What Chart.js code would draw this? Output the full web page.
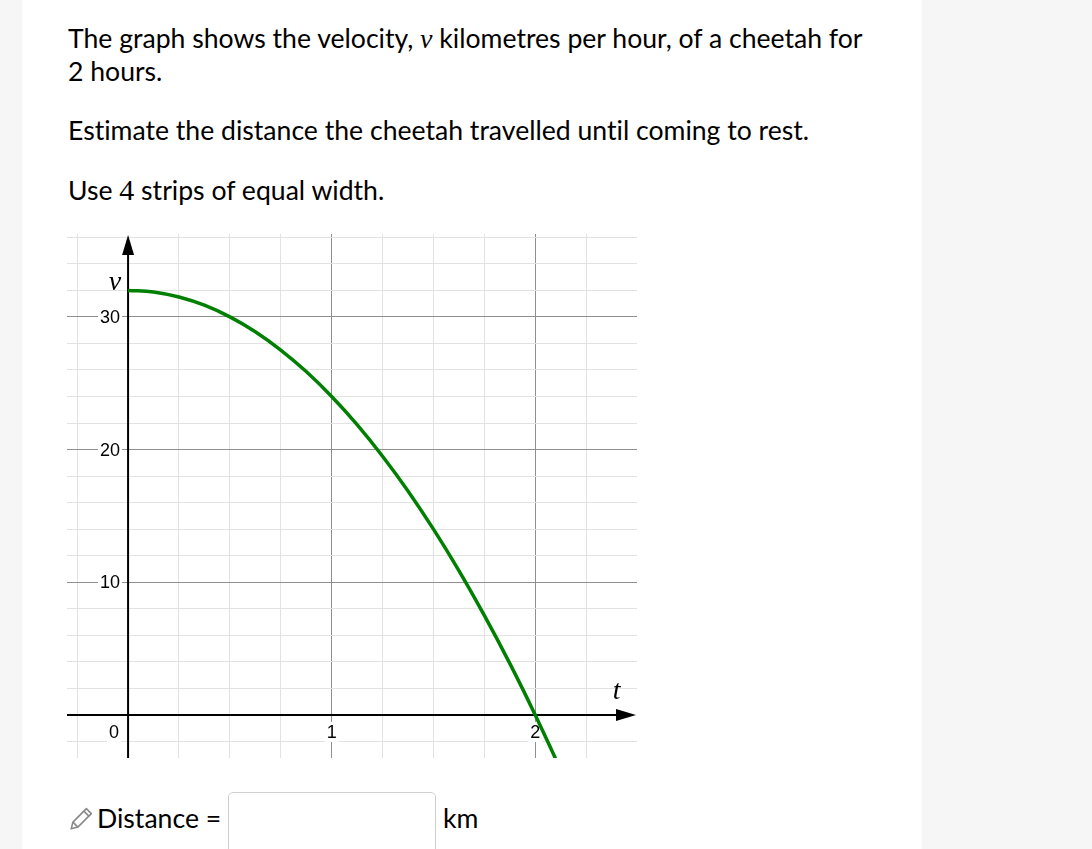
<!DOCTYPE html>
<html>
<head>
<meta charset="utf-8">
<script src="https://cdn.jsdelivr.net/npm/chart.js@4"></script>
<style>
  body { margin: 0; background: #f6f6f6; width: 1092px; height: 849px; overflow: hidden; }
  #card { position: absolute; left: 22px; top: 0; width: 900px; height: 849px; background: #fff; }
  .txt { position: absolute; left: 68px; font-family: Lato, sans-serif; font-size: 26.6px; line-height: 32px; color: #000; white-space: nowrap; font-variant-ligatures: none; }
  .mv { font-family: 'Liberation Serif', serif; font-style: italic; font-size: 28px; }
  .m4 { font-family: 'Liberation Serif', serif; font-size: 30px; }
  #chartBox { position: absolute; left: 40px; top: 220px; }
  #answer { position: absolute; left: 228px; top: 792px; width: 206px; height: 70px; border: 1px solid #d0d0d0; border-radius: 5px; background: #fff; }
</style>
</head>
<body>
<div id="card"></div>
<div class="txt" style="top:22px">The graph shows the velocity, <span class="mv">v</span> kilometres per hour, of a cheetah for<br>2 hours.</div>
<div class="txt" style="top:114px">Estimate the distance the cheetah travelled until coming to rest.</div>
<div class="txt" style="top:174px">Use <span class="m4">4</span> strips of equal width.</div>

<div id="chartBox"><canvas id="myChart" width="620" height="560"></canvas></div>

<svg style="position:absolute;left:66px;top:806px" width="28" height="28" viewBox="0 0 28 28">
  <g transform="rotate(45 14 14)" fill="none" stroke="#8a8a8a" stroke-width="1.6" stroke-linejoin="round">
    <path d="M10.5 1.5 h7 v19 l-3.5 6 l-3.5 -6 z"/>
    <path d="M10.5 20.5 h7"/>
    <path d="M10.5 5 h7"/>
  </g>
</svg>
<div class="txt" style="top:802px;left:97px">Distance =</div>
<div id="answer"></div>
<div class="txt" style="top:802px;left:443px">km</div>

<script>
// time in hours, velocity in km/h
const times = [0, 0.125, 0.25, 0.375, 0.5, 0.625, 0.75, 0.875, 1, 1.125, 1.25, 1.375, 1.5, 1.625, 1.75, 1.875, 2, 2.1];
const velocity = [32, 31.88, 31.5, 30.88, 30, 28.88, 27.5, 25.88, 24, 21.88, 19.5, 16.88, 14, 10.88, 7.5, 3.88, 0, -3.3];

const xTickValues = [0, 1, 2];
const xTickLabels = ['0', '1', '2'];
const yTickValues = [10, 20, 30];
const yTickLabels = ['10', '20', '30'];

// grid lines (minor every 0.25 h and 2 km/h)
const xGrid = [-0.25, 0, 0.25, 0.5, 0.75, 1, 1.25, 1.5, 1.75, 2, 2.25];
const yGrid = [-2, 0, 2, 4, 6, 8, 10, 12, 14, 16, 18, 20, 22, 24, 26, 28, 30, 32, 34, 36];

const labelFont = '18px "Liberation Sans", Arial, sans-serif';

function labelBox(ctx, text, x, y, align) {
    ctx.font = labelFont;
    const w = ctx.measureText(text).width;
    let left = x - w / 2;
    if (align === 'right') left = x - w;
    ctx.fillStyle = '#fff';
    ctx.fillRect(left - 2, y - 10, w + 4, 20);
    ctx.fillStyle = '#000';
    ctx.textAlign = 'left';
    ctx.textBaseline = 'middle';
    ctx.fillText(text, left, y + 1);
}

const axesPlugin = {
    id: 'axes',
    beforeDatasetsDraw(chart) {
        const { ctx, chartArea, scales: { x, y } } = chart;
        const x0 = x.getPixelForValue(0);
        const y0 = y.getPixelForValue(0);
        ctx.save();

        // tick labels
        yTickValues.forEach((v, i) => labelBox(ctx, yTickLabels[i], x0 - 8, y.getPixelForValue(v), 'right'));
        xTickValues.forEach((v, i) => {
            if (v === 0) {
                labelBox(ctx, xTickLabels[i], x0 - 9, y0 + 17, 'right');
            } else {
                labelBox(ctx, xTickLabels[i], x.getPixelForValue(v), y0 + 17, 'center');
            }
        });

        ctx.strokeStyle = '#000';
        ctx.fillStyle = '#000';
        ctx.lineWidth = 2;
        // y axis
        ctx.beginPath();
        ctx.moveTo(x0, chartArea.bottom);
        ctx.lineTo(x0, chartArea.top + 18);
        ctx.stroke();
        ctx.beginPath();
        ctx.moveTo(x0, chartArea.top + 1);
        ctx.lineTo(x0 - 6, chartArea.top + 21);
        ctx.lineTo(x0 + 6, chartArea.top + 21);
        ctx.closePath();
        ctx.fill();
        // x axis
        ctx.beginPath();
        ctx.moveTo(chartArea.left, y0);
        ctx.lineTo(chartArea.right - 18, y0);
        ctx.stroke();
        ctx.beginPath();
        ctx.moveTo(chartArea.right - 1, y0);
        ctx.lineTo(chartArea.right - 21, y0 - 6);
        ctx.lineTo(chartArea.right - 21, y0 + 6);
        ctx.closePath();
        ctx.fill();

        // axis names
        ctx.font = 'italic 28px "Liberation Serif", serif';
        ctx.textAlign = 'center';
        ctx.textBaseline = 'alphabetic';
        ctx.fillText('v', x0 - 13, y.getPixelForValue(32.5) + 6);
        ctx.fillText('t', x.getPixelForValue(2.4), y0 - 16);
        ctx.restore();
    }
};

function gridColor(values, majors) {
    return (c) => {
        const v = c.tick && c.tick.value;
        if (v === 0) return 'rgba(0,0,0,0)';
        return majors.includes(v) ? '#8f8f8f' : '#e2e2e2';
    };
}

const ctx = document.getElementById('myChart').getContext('2d');
new Chart(ctx, {
    type: 'line',
    data: {
        datasets: [{
            data: times.map((t, i) => ({ x: t, y: velocity[i] })),
            borderColor: '#008000',
            borderWidth: 3.5,
            pointRadius: 0,
            tension: 0.4,
            fill: false
        }]
    },
    options: {
        responsive: false,
        animation: false,
        devicePixelRatio: 1,
        layout: { padding: { left: 27, right: 23, top: 14, bottom: 22 } },
        plugins: {
            legend: { display: false },
            tooltip: { enabled: false }
        },
        scales: {
            x: {
                type: 'linear',
                min: -0.3,
                max: 2.5,
                afterBuildTicks: (s) => { s.ticks = xGrid.map(v => ({ value: v })); },
                ticks: { display: false },
                border: { display: false },
                grid: { drawTicks: false, color: gridColor(xGrid, [1, 2]), lineWidth: 1 }
            },
            y: {
                type: 'linear',
                min: -3.25,
                max: 36.25,
                afterBuildTicks: (s) => { s.ticks = yGrid.map(v => ({ value: v })); },
                ticks: { display: false },
                border: { display: false },
                grid: { drawTicks: false, color: gridColor(yGrid, [10, 20, 30]), lineWidth: 1 }
            }
        }
    },
    plugins: [axesPlugin]
});
</script>
</body>
</html>
